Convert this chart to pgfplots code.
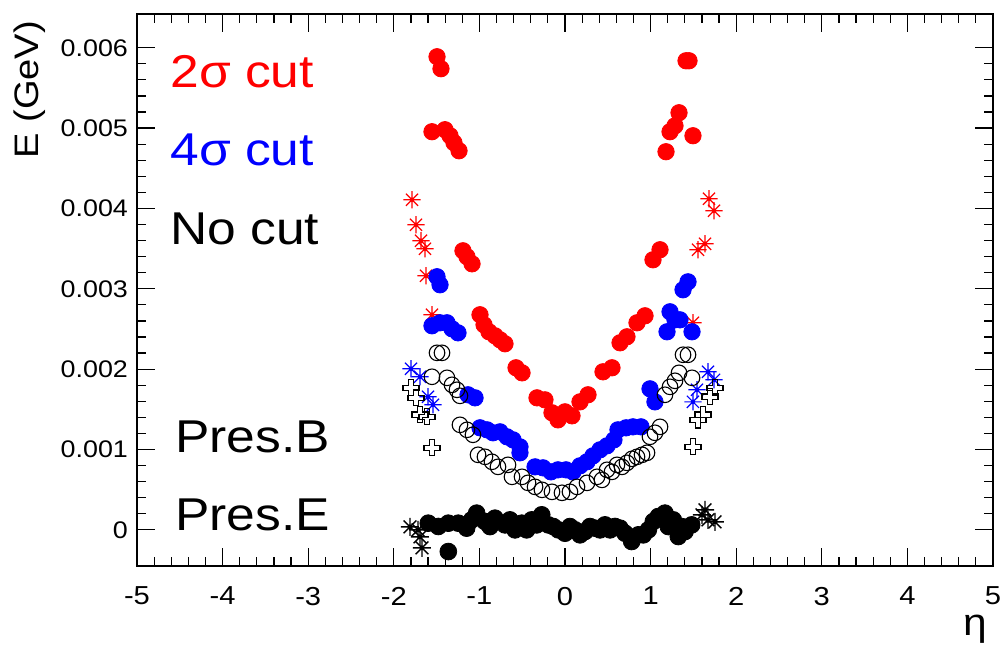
\documentclass[border=0pt]{standalone}
\usepackage{fontspec}
\setmainfont{Liberation Sans}[FakeStretch=1.12]
\usepackage{pgfplots}
\pgfplotsset{compat=1.18}

\pgfdeclareplotmark{ast8}{%
  \pgfpathmoveto{\pgfqpoint{-\pgfplotmarksize}{0pt}}\pgfpathlineto{\pgfqpoint{\pgfplotmarksize}{0pt}}%
  \pgfpathmoveto{\pgfqpoint{0pt}{-\pgfplotmarksize}}\pgfpathlineto{\pgfqpoint{0pt}{\pgfplotmarksize}}%
  \pgfpathmoveto{\pgfqpoint{-0.707\pgfplotmarksize}{-0.707\pgfplotmarksize}}\pgfpathlineto{\pgfqpoint{0.707\pgfplotmarksize}{0.707\pgfplotmarksize}}%
  \pgfpathmoveto{\pgfqpoint{-0.707\pgfplotmarksize}{0.707\pgfplotmarksize}}\pgfpathlineto{\pgfqpoint{0.707\pgfplotmarksize}{-0.707\pgfplotmarksize}}%
  \pgfusepathqstroke
  \pgfpathcircle{\pgfqpoint{0pt}{0pt}}{0.18\pgfplotmarksize}\pgfusepathqfillstroke
}
\pgfdeclareplotmark{ocross}{%
  \pgfpathmoveto{\pgfqpoint{-0.33\pgfplotmarksize}{\pgfplotmarksize}}%
  \pgfpathlineto{\pgfqpoint{0.33\pgfplotmarksize}{\pgfplotmarksize}}%
  \pgfpathlineto{\pgfqpoint{0.33\pgfplotmarksize}{0.33\pgfplotmarksize}}%
  \pgfpathlineto{\pgfqpoint{\pgfplotmarksize}{0.33\pgfplotmarksize}}%
  \pgfpathlineto{\pgfqpoint{\pgfplotmarksize}{-0.33\pgfplotmarksize}}%
  \pgfpathlineto{\pgfqpoint{0.33\pgfplotmarksize}{-0.33\pgfplotmarksize}}%
  \pgfpathlineto{\pgfqpoint{0.33\pgfplotmarksize}{-\pgfplotmarksize}}%
  \pgfpathlineto{\pgfqpoint{-0.33\pgfplotmarksize}{-\pgfplotmarksize}}%
  \pgfpathlineto{\pgfqpoint{-0.33\pgfplotmarksize}{-0.33\pgfplotmarksize}}%
  \pgfpathlineto{\pgfqpoint{-\pgfplotmarksize}{-0.33\pgfplotmarksize}}%
  \pgfpathlineto{\pgfqpoint{-\pgfplotmarksize}{0.33\pgfplotmarksize}}%
  \pgfpathlineto{\pgfqpoint{-0.33\pgfplotmarksize}{0.33\pgfplotmarksize}}%
  \pgfpathclose\pgfusepathqstroke
}

\begin{document}
\begin{tikzpicture}
\useasboundingbox (-68.5pt,-39pt) rectangle (431.5pt,283pt);
\begin{axis}[
  at={(0,0)}, anchor=south west,
  scale only axis, width=428pt, height=276pt,
  xmin=-5, xmax=5, ymin=-0.00045, ymax=0.00642,
  xtick={-5,-4,...,5},
  ytick={0,0.001,0.002,0.003,0.004,0.005,0.006},
  yticklabels={0,0.001,0.002,0.003,0.004,0.005,0.006},
  scaled y ticks=false,
  minor x tick num=4, minor y tick num=4,
  tick align=inside,
  major tick length=9pt, minor tick length=4.5pt,
  every tick/.style={black, line width=0.6pt},
  axis line style={line width=1.1pt},
  /pgf/number format/assume math mode=true,
  yticklabel style={font=\fontsize{12}{14}\selectfont, xshift=-1pt},
  xticklabel style={font=\fontsize{13}{15}\selectfont, yshift=-7pt},
  xlabel={η}, ylabel={E (GeV)},
  xlabel style={font=\fontsize{19}{22}\selectfont, at={(axis description cs:0.979,-0.115)}, anchor=center},
  ylabel style={font=\fontsize{17}{20}\selectfont, at={(axis description cs:-0.125,1)}, anchor=east, rotate=0},
  clip=false,
]
% 2 sigma cut, barrel (red filled circles)
\addplot[only marks, mark=*, mark size=4.1pt, color=red, mark options={fill=red, draw=red}] coordinates {
(-1.495,0.005888) (-1.449,0.005739) (-1.554,0.004955) (-1.402,0.004980) (-1.343,0.004905)
(-1.297,0.004818) (-1.238,0.004718) (-1.192,0.003473) (-1.145,0.003399) (-1.086,0.003311)
(-0.993,0.002677) (-0.946,0.002552) (-0.888,0.002465) (-0.818,0.002415) (-0.759,0.002365)
(-0.701,0.002316) (-0.572,0.002017) (-0.502,0.001954) (-0.327,0.001643) (-0.234,0.001618)
(-0.152,0.001457) (-0.082,0.001369) (0.000,0.001469) (0.082,0.001419) (0.175,0.001593)
(0.269,0.001681) (0.444,0.001967) (0.549,0.002017) (0.643,0.002328) (0.724,0.002403)
(0.841,0.002577) (0.935,0.002664) (1.028,0.003361) (1.110,0.003486) (1.180,0.004706)
(1.227,0.004955) (1.285,0.005029) (1.332,0.005191) (1.495,0.004905) (1.414,0.005838)
(1.449,0.005838)
};
% 2 sigma cut, endcap (red asterisks)
\addplot[only marks, mark=ast8, mark size=4.3pt, color=red, line width=0.6pt] coordinates {
(-1.787,0.004108) (-1.741,0.003797) (-1.682,0.003598) (-1.636,0.003498) (-1.624,0.003162)
(-1.554,0.002677) (1.682,0.004121) (1.741,0.003971) (1.636,0.003560) (1.554,0.003486)
(1.495,0.002577)
};
% 4 sigma cut, barrel (blue filled circles)
\addplot[only marks, mark=*, mark size=4.1pt, color=blue, mark options={fill=blue, draw=blue}] coordinates {
(-1.495,0.003150) (-1.460,0.003050) (-1.554,0.002540) (-1.460,0.002577) (-1.379,0.002577)
(-1.320,0.002502) (-1.250,0.002452) (-1.133,0.001681) (-1.051,0.001643) (-0.993,0.001270)
(-0.911,0.001245) (-0.841,0.001208) (-0.759,0.001220) (-0.678,0.001158) (-0.607,0.001120)
(-0.526,0.001033) (-0.526,0.000959) (-0.350,0.000784) (-0.257,0.000772) (-0.164,0.000722)
(-0.082,0.000747) (0.012,0.000747) (0.093,0.000722) (0.175,0.000797) (0.257,0.000847)
(0.327,0.000921) (0.409,0.000996) (0.491,0.001046) (0.572,0.001120) (0.619,0.001245)
(0.713,0.001270) (0.794,0.001282) (0.888,0.001282) (0.993,0.001755) (1.051,0.001593)
(1.227,0.002714) (1.285,0.002614) (1.343,0.002614) (1.192,0.002465) (1.484,0.002465)
(1.379,0.002988) (1.437,0.003087)
};
% 4 sigma cut, endcap (blue asterisks)
\addplot[only marks, mark=ast8, mark size=4.3pt, color=blue, line width=0.6pt] coordinates {
(-1.799,0.002004) (-1.694,0.001905) (-1.600,0.001656) (-1.542,0.001556)
(1.671,0.001967) (1.741,0.001867) (1.542,0.001743) (1.495,0.001593)
};
% no cut, barrel (black open circles)
\addplot[only marks, mark=o, mark size=3.9pt, color=black, line width=0.55pt] coordinates {
(-1.495,0.002203) (-1.437,0.002203) (-1.554,0.001905) (-1.379,0.001892) (-1.320,0.001805)
(-1.262,0.001743) (-1.227,0.001668) (-1.227,0.001307) (-1.145,0.001245) (-1.075,0.001183)
(-1.016,0.000934) (-0.935,0.000909) (-0.853,0.000847) (-0.783,0.000784) (-0.666,0.000809)
(-0.619,0.000660) (-0.502,0.000660) (-0.432,0.000585) (-0.350,0.000535) (-0.269,0.000498)
(-0.152,0.000473) (-0.035,0.000461) (0.058,0.000473) (0.140,0.000535) (0.257,0.000585)
(0.374,0.000660) (0.432,0.000622) (0.491,0.000747) (0.549,0.000722) (0.607,0.000809)
(0.666,0.000784) (0.724,0.000834) (0.783,0.000884) (0.841,0.000909) (0.900,0.000934)
(0.958,0.000959) (0.993,0.001158) (1.051,0.001208) (1.110,0.001282) (1.168,0.001681)
(1.227,0.001780) (1.285,0.001855) (1.332,0.001954) (1.484,0.001892) (1.379,0.002179)
(1.437,0.002179)
};
% no cut, endcap (black open crosses)
\addplot[only marks, mark=ocross, mark size=4pt, color=black, line width=0.65pt] coordinates {
(-1.799,0.001768) (-1.741,0.001643) (-1.694,0.001432) (-1.612,0.001407) (-1.554,0.001021)
(1.752,0.001768) (1.694,0.001656) (1.612,0.001432) (1.554,0.001369) (1.495,0.001033)
};
% Pres.B (black filled circles)
\addplot[only marks, mark=*, mark size=4.2pt, color=black, mark options={fill=black, draw=black}] coordinates {
(-1.597,0.000083) (-1.480,0.000042) (-1.363,-0.000270) (-1.246,0.000083) (-1.149,0.000021)
(-1.032,0.000208) (-0.935,0.000104) (-0.818,0.000145) (-0.701,0.000062) (-0.584,0.000000)
(-0.506,0.000083) (-0.389,0.000124) (-0.272,0.000187) (-0.195,0.000062) (-0.078,0.000000)
(0.000,-0.000042) (0.117,0.000000) (0.234,-0.000021) (0.350,0.000021) (0.467,0.000062)
(0.584,0.000042) (0.701,-0.000042) (0.779,-0.000145) (0.857,-0.000062) (0.974,0.000000)
(1.090,0.000166) (1.168,0.000208) (1.265,0.000124) (1.324,-0.000083) (1.402,-0.000021)
(1.480,0.000062)
(-1.363,0.000083) (-1.090,0.000124) (-0.876,0.000041) (-0.643,0.000124) (-0.448,0.000000)
(-0.331,0.000062) (-0.136,0.000041) (0.058,0.000041) (0.175,-0.000062) (0.292,0.000041)
(0.409,0.000000) (0.526,0.000000) (0.643,0.000021) (0.915,-0.000062) (1.032,0.000104)
(1.207,0.000041) (1.363,0.000041)
};
% Pres.E (black asterisks)
\addplot[only marks, mark=ast8, mark size=4.5pt, color=black, line width=0.7pt] coordinates {
(-1.811,0.000037) (-1.717,0.000000) (-1.694,-0.000087) (-1.671,-0.000224)
(1.600,0.000187) (1.671,0.000124) (1.752,0.000100) (1.636,0.000249)
};
\node[anchor=base west, text=red, font=\fontsize{23}{27}\selectfont, inner sep=0pt] at (axis cs:-4.615,0.005502) {2σ cut};
\node[anchor=base west, text=blue, font=\fontsize{23}{27}\selectfont, inner sep=0pt] at (axis cs:-4.615,0.004531) {4σ cut};
\node[anchor=base west, text=black, font=\fontsize{23}{27}\selectfont, inner sep=0pt] at (axis cs:-4.615,0.003548) {No cut};
\node[anchor=base west, text=black, font=\fontsize{23}{27}\selectfont, inner sep=0pt] at (axis cs:-4.556,0.000959) {Pres.B};
\node[anchor=base west, text=black, font=\fontsize{23}{27}\selectfont, inner sep=0pt] at (axis cs:-4.556,-0.000012) {Pres.E};
\end{axis}
\end{tikzpicture}
\end{document}
